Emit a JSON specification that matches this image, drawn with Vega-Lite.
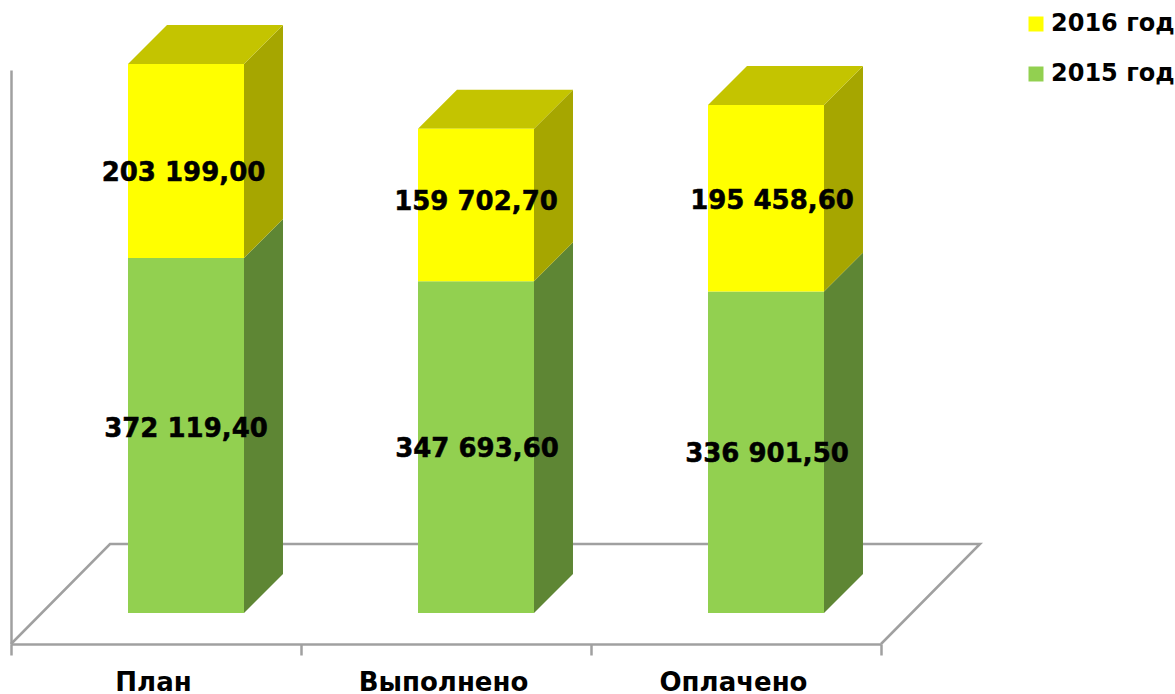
{
"$schema":"https://vega.github.io/schema/vega-lite/v6.json",
"autosize":{"type":"none"},
"padding":{"left":11,"top":70,"right":294,"bottom":50},
"width":870,"height":574,
"background":"white",
"config":{"view":{"stroke":null},"font":"DejaVu Sans"},
"datasets":{
"bars":[
{"cat":"План","series":"2015 год","value":372119.4},
{"cat":"План","series":"2016 год","value":203199.0},
{"cat":"Выполнено","series":"2015 год","value":347693.6},
{"cat":"Выполнено","series":"2016 год","value":159702.7},
{"cat":"Оплачено","series":"2015 год","value":336901.5},
{"cat":"Оплачено","series":"2016 год","value":195458.6}
],
"floor":[
{"n":0,"u":0,"v":-32488},
{"n":1,"u":0.3414,"v":72312},
{"n":2,"u":3.3414,"v":72312},
{"n":3,"u":3,"v":-32488}
],
"sides":[
{"id":"a","series":"2015 год","u":0.8034,"low":0,"high":372119.4},
{"id":"a","series":"2015 год","u":0.9379,"low":40872,"high":412991},
{"id":"b","series":"2015 год","u":1.8034,"low":0,"high":347693.6},
{"id":"b","series":"2015 год","u":1.9379,"low":40872,"high":388566},
{"id":"c","series":"2015 год","u":2.8034,"low":0,"high":336901.5},
{"id":"c","series":"2015 год","u":2.9379,"low":40872,"high":377774},
{"id":"d","series":"2016 год","u":0.8034,"low":372119.4,"high":575318.4},
{"id":"d","series":"2016 год","u":0.9379,"low":412991,"high":616190},
{"id":"e","series":"2016 год","u":1.8034,"low":347693.6,"high":507396.3},
{"id":"e","series":"2016 год","u":1.9379,"low":388566,"high":548268},
{"id":"f","series":"2016 год","u":2.8034,"low":336901.5,"high":532360.1},
{"id":"f","series":"2016 год","u":2.9379,"low":377774,"high":573232}
],
"tops":[
{"id":"a","u":0.4034,"low":575318.4,"high":575318.4},
{"id":"a","u":0.5379,"low":575318.4,"high":616190},
{"id":"a","u":0.8034,"low":575318.4,"high":616190},
{"id":"a","u":0.9379,"low":616190,"high":616190},
{"id":"b","u":1.4034,"low":507396.3,"high":507396.3},
{"id":"b","u":1.5379,"low":507396.3,"high":548268},
{"id":"b","u":1.8034,"low":507396.3,"high":548268},
{"id":"b","u":1.9379,"low":548268,"high":548268},
{"id":"c","u":2.4034,"low":532360.1,"high":532360.1},
{"id":"c","u":2.5379,"low":532360.1,"high":573232},
{"id":"c","u":2.8034,"low":532360.1,"high":573232},
{"id":"c","u":2.9379,"low":573232,"high":573232}
],
"labels":[
{"label":"203 199,00","u":0.5948,"at":461120},
{"label":"372 119,40","u":0.6034,"at":192832},
{"label":"159 702,70","u":1.6034,"at":430728},
{"label":"347 693,60","u":1.6069,"at":171872},
{"label":"195 458,60","u":2.6241,"at":431776},
{"label":"336 901,50","u":2.6069,"at":166632}
]
},
"resolve":{"scale":{"x":"independent"}},
"layer":[
{"data":{"name":"floor"},"mark":{"type":"line","color":"#a0a0a0","strokeWidth":2.5,"clip":false},
 "encoding":{"x":{"field":"u","type":"quantitative","scale":{"domain":[0,3],"nice":false,"zero":false},"axis":null},
 "y":{"field":"v","type":"quantitative","scale":{"domain":[-32488,569064],"nice":false,"zero":false},
  "axis":{"title":null,"labels":false,"ticks":false,"grid":false,"domainColor":"#a0a0a0","domainWidth":2.5}},
 "order":{"field":"n","type":"quantitative"}}},
{"data":{"name":"sides"},"transform":[{"filter":"datum.series==='2015 год'"}],"mark":{"type":"area","color":"#5e8634","interpolate":"linear"},
 "encoding":{"x":{"field":"u","type":"quantitative","scale":{"domain":[0,3],"nice":false,"zero":false},"axis":null},
 "y":{"field":"low","type":"quantitative","stack":null},"y2":{"field":"high"},"detail":{"field":"id"}}},
{"data":{"name":"sides"},"transform":[{"filter":"datum.series==='2016 год'"}],"mark":{"type":"area","color":"#a6a600","interpolate":"linear"},
 "encoding":{"x":{"field":"u","type":"quantitative","scale":{"domain":[0,3],"nice":false,"zero":false},"axis":null},
 "y":{"field":"low","type":"quantitative","stack":null},"y2":{"field":"high"},"detail":{"field":"id"}}},
{"data":{"name":"tops"},"mark":{"type":"area","color":"#c4c400","interpolate":"linear"},
 "encoding":{"x":{"field":"u","type":"quantitative","scale":{"domain":[0,3],"nice":false,"zero":false},"axis":null},
 "y":{"field":"low","type":"quantitative","stack":null},"y2":{"field":"high"},"detail":{"field":"id"}}},
{"data":{"name":"bars"},"mark":{"type":"bar","width":116,"xOffset":30},
 "encoding":{
 "x":{"field":"cat","type":"nominal","sort":["План","Выполнено","Оплачено"],
  "scale":{"paddingInner":0,"paddingOuter":0},
  "axis":{"title":null,"labelAngle":0,"tickBand":"extent","tickSize":11,"tickWidth":2.5,"tickColor":"#a0a0a0","domainColor":"#a0a0a0","domainWidth":2.5,"labelFont":"DejaVu Sans","labelFontWeight":"bold","labelFontSize":26,"labelColor":"#000000","labelPadding":14,"labelOffset":-3,"grid":false}},
 "y":{"field":"value","type":"quantitative","stack":"zero"},
 "order":{"field":"series","sort":"ascending"},
 "color":{"field":"series","type":"nominal","scale":{"domain":["2016 год","2015 год"],"range":["#ffff00","#92d050"]},
  "legend":{"title":null,"orient":"none","legendX":1013,"legendY":-58,"symbolType":"square","symbolSize":225,"symbolStrokeWidth":0,"labelFont":"DejaVu Sans","labelFontWeight":"bold","labelFontSize":24,"labelColor":"#000000","labelOffset":3,"rowPadding":26,"labelLimit":200}}}},
{"data":{"name":"labels"},"mark":{"type":"text","font":"DejaVu Sans","fontWeight":"bold","fontSize":26,"color":"#000000","stroke":"#000000","strokeWidth":0.5,"align":"center","baseline":"middle"},
 "encoding":{"x":{"field":"u","type":"quantitative","scale":{"domain":[0,3],"nice":false,"zero":false},"axis":null},
 "y":{"field":"at","type":"quantitative"},"text":{"field":"label","type":"nominal"}}}
]
}
